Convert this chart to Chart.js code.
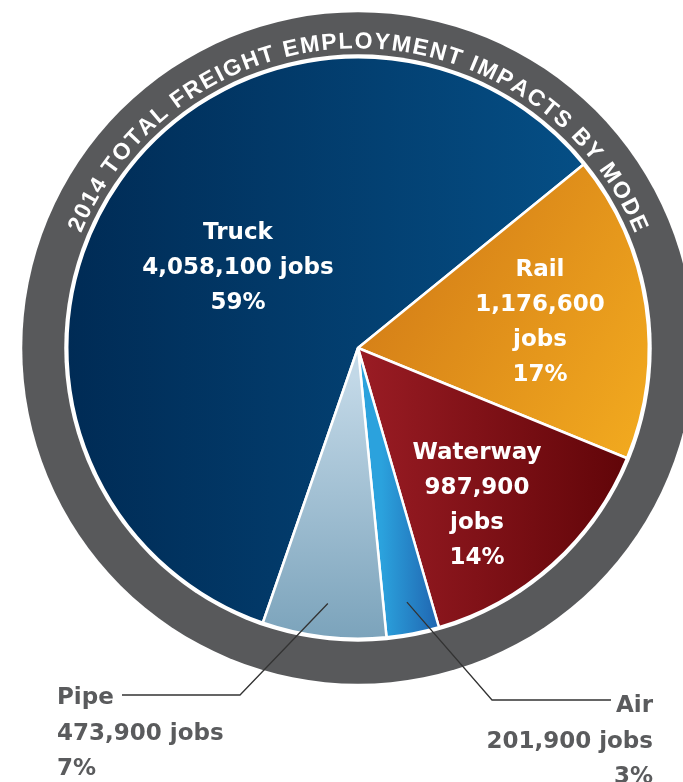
<!DOCTYPE html>
<html>
<head>
<meta charset="utf-8">
<title>2014 Total Freight Employment Impacts by Mode</title>
<script src="https://cdn.jsdelivr.net/npm/chart.js"></script>
<style>
    body{ margin:0; background:#fff; }
    #wrap{ width:683px; height:782px; position:relative; }
</style>
</head>
<body>
<div id="wrap"><canvas id="modeChart"></canvas></div>
<script>

// DATA
const modes =
['Truck', 'Rail', 'Waterway', 'Air', 'Pipe'];

const jobs =
[4058100, 1176600, 987900, 201900, 473900];

const ringTitle =
'2014 TOTAL FREIGHT EMPLOYMENT IMPACTS BY MODE';


// STYLE: gradient stops + direction (fractions of radius from centre)
const sliceFills = [
    { from:'#002b55', to:'#054f86', dir:[-1, 0, 0.8, 0] },
    { from:'#d27b17', to:'#f2aa1f', dir:[0, -0.3, 1, 0.3] },
    { from:'#9a1c24', to:'#5c0306', dir:[0, 0, 1, 0] },
    { from:'#2ba2dd', to:'#1f5eab', dir:[0.08, 0, 0.3, 0] },
    { from:'#c2d8e7', to:'#7ba3bb', dir:[0, 0.1, 0, 1] }
];

const total =
jobs.reduce((a, b) => a + b, 0);

const pct =
jobs.map(v => Math.round(v / total * 100) + '%');

const fmt =
v => v.toLocaleString('en-US');


// label lines per slice
const labelLines = [
    [modes[0], fmt(jobs[0]) + ' jobs', pct[0]],
    [modes[1], fmt(jobs[1]), 'jobs', pct[1]],
    [modes[2], fmt(jobs[2]), 'jobs', pct[2]],
    [modes[3], fmt(jobs[3]) + ' jobs', pct[3]],
    [modes[4], fmt(jobs[4]) + ' jobs', pct[4]]
];

// label placement, relative to pie centre (px)
const inside = {
    0:{ x:-120, y:-80 },
    1:{ x:182, y:-25 },
    2:{ x:119, y:158 }
};

const outside = {
    3:{ r:0.89, corner:[134, 352], end:[253, 352], tx:295, ty:364, align:'right' },
    4:{ r:0.885, corner:[-118, 347], end:[-236, 347], tx:-301, ty:356, align:'left' }
};

const labelFont =
'bold 23px "DejaVu Sans"';

const lineGap = 35;


function sliceColour(c){

    const chart = c.chart;
    const area = chart.chartArea;
    const f = sliceFills[c.dataIndex];

    if(!area) return f.from;

    const cx = (area.left + area.right) / 2;
    const cy = (area.top + area.bottom) / 2;
    const r = Math.min(area.width, area.height) / 2;

    const g = chart.ctx.createLinearGradient(
        cx + f.dir[0] * r, cy + f.dir[1] * r,
        cx + f.dir[2] * r, cy + f.dir[3] * r
    );

    g.addColorStop(0, f.from);
    g.addColorStop(1, f.to);

    return g;

}


const ringPlugin = {

    id:'ring',

    beforeDatasetsDraw(chart){

        const arc = chart.getDatasetMeta(0).data[0];
        const ctx = chart.ctx;
        const cx = arc.x, cy = arc.y, R = arc.outerRadius;

        ctx.save();

        ctx.beginPath();
        ctx.arc(cx, cy, R + 45, 0, Math.PI * 2);
        ctx.fillStyle = '#58595b';
        ctx.fill();

        ctx.beginPath();
        ctx.arc(cx, cy, R + 3, 0, Math.PI * 2);
        ctx.fillStyle = '#ffffff';
        ctx.fill();

        // curved title
        ctx.font = 'bold 23px "Liberation Sans", Arial, sans-serif';
        ctx.fillStyle = '#ffffff';
        ctx.textAlign = 'center';
        ctx.textBaseline = 'alphabetic';

        const chars = ringTitle.split('');
        const widths = chars.map(ch => ctx.measureText(ch).width);
        const textW = widths.reduce((a, b) => a + b, 0);

        const rb = R + 9;
        const a0 = -67.5 * Math.PI / 180;
        const a1 = 67.5 * Math.PI / 180;
        const span = (a1 - a0) * rb;
        const extra = (span - textW) / (chars.length - 1);

        let run = 0;

        chars.forEach((ch, i) => {

            const a = a0 + (run + widths[i] / 2) / rb;

            ctx.save();
            ctx.translate(cx + rb * Math.sin(a), cy - rb * Math.cos(a));
            ctx.rotate(a);
            ctx.fillText(ch, 0, 0);
            ctx.restore();

            run += widths[i] + extra;

        });

        ctx.restore();

    },

    afterDatasetsDraw(chart){

        const meta = chart.getDatasetMeta(0);
        const ctx = chart.ctx;
        const cx = meta.data[0].x, cy = meta.data[0].y;

        ctx.save();
        ctx.font = labelFont;
        ctx.textBaseline = 'middle';

        // labels inside the slices
        Object.keys(inside).forEach(k => {

            const p = inside[k];
            const lines = labelLines[k];
            const top = cy + p.y - (lines.length - 1) * lineGap / 2;

            ctx.fillStyle = '#ffffff';
            ctx.textAlign = 'center';

            lines.forEach((t, i) => {
                ctx.fillText(t, cx + p.x, top + i * lineGap);
            });

        });

        // leader-line labels
        Object.keys(outside).forEach(k => {

            const o = outside[k];
            const arc = meta.data[k];
            const mid = (arc.startAngle + arc.endAngle) / 2;
            const r = arc.outerRadius * o.r;

            ctx.beginPath();
            ctx.moveTo(cx + r * Math.cos(mid), cy + r * Math.sin(mid));
            ctx.lineTo(cx + o.corner[0], cy + o.corner[1]);
            ctx.lineTo(cx + o.end[0], cy + o.end[1]);
            ctx.strokeStyle = '#333333';
            ctx.lineWidth = 1.3;
            ctx.stroke();

            ctx.fillStyle = '#5a5b5d';
            ctx.textAlign = o.align;
            ctx.textBaseline = 'alphabetic';

            labelLines[k].forEach((t, i) => {
                ctx.fillText(t, cx + o.tx, cy + o.ty + i * 35.5);
            });

        });

        ctx.restore();

    }

};


new Chart(

document.getElementById('modeChart'),

{

    type:'pie',

    data:{

        labels:modes,

        datasets:[{

            data:jobs,

            backgroundColor:sliceColour,

            borderColor:'#ffffff',

            borderWidth:2.5,

            offset:0,

            hoverOffset:0

        }]

    },

    options:{

        responsive:true,

        maintainAspectRatio:false,

        animation:false,

        rotation:199.1,

        layout:{
            padding:{ left:66, right:33, top:56, bottom:142 }
        },

        plugins:{
            legend:{ display:false },
            tooltip:{ enabled:false }
        }

    },

    plugins:[ringPlugin]

});

</script>
</body>
</html>
